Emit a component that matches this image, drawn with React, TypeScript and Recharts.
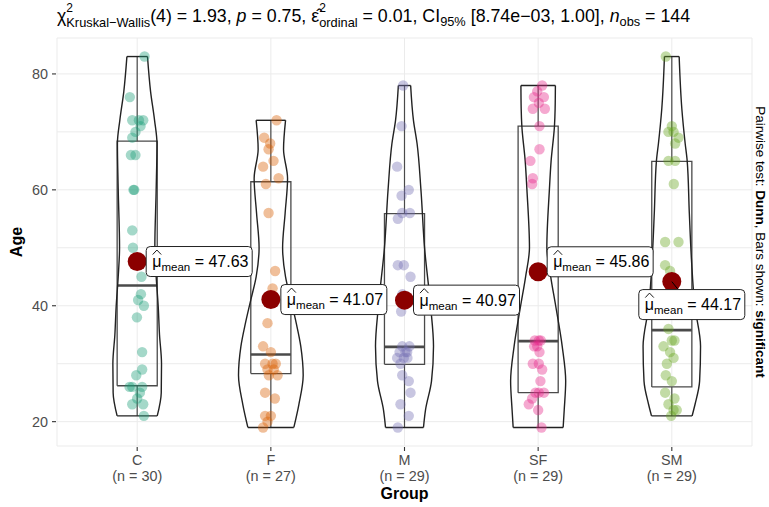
import React from 'react'
import { ComposedChart, Line, Scatter, XAxis, YAxis, CartesianGrid } from 'recharts'

const GROUPS = ['C', 'F', 'M', 'SF', 'SM']
const GROUP_N = [30, 27, 29, 29, 29]
const MEANS = [47.63, 41.07, 40.97, 45.86, 44.17]
const Y_TICKS = [20, 30, 40, 50, 60, 70, 80]
const Y_LABELED = [20, 40, 60, 80]
const X_TICKS = [1, 2, 3, 4, 5]

const AGE_C = [83, 76, 72, 72, 72, 71, 70, 69, 66, 66, 60, 60, 53, 50, 45, 42, 41, 40, 38, 32, 29, 28, 26, 26, 25, 23, 23, 21, 26, 24]
const JIT_C = [0.055, -0.055, -0.037, 0.013, 0.045, 0.025, -0.013, -0.037, -0.047, -0.013, -0.022, -0.028, -0.037, -0.032, 0.032, 0.028, 0.007, 0.05, -0.002, 0.037, 0.037, -0.007, -0.037, 0.037, 0.02, -0.037, 0.045, 0.05, -0.057, 0]
const AGE_F = [72, 69, 68, 67, 65, 64, 62, 61, 56, 46, 43, 37, 33, 32, 30, 30, 30, 29, 28, 25, 21, 21, 20, 19, 29, 28, 24]
const JIT_F = [0.043, -0.05, -0.005, -0.017, 0.02, -0.058, 0.058, -0.037, -0.017, 0.032, 0.013, -0.025, -0.058, 0, -0.043, 0.013, 0.037, -0.025, 0.05, -0.043, -0.043, 0, -0.025, -0.058, 0.022, -0.015, 0.03]
const AGE_M = [78, 71, 64, 60, 59, 56, 56, 55, 47, 47, 45, 39, 33, 32, 31, 31, 30, 28, 27, 25, 23, 21, 19, 41, 42, 33, 32, 31, 32]
const JIT_M = [-0.01, -0.022, -0.055, 0.032, -0.022, 0.04, -0.017, -0.05, -0.05, -0.005, 0.045, -0.025, -0.017, 0.02, -0.055, -0.005, -0.03, -0.017, 0.032, 0.045, -0.03, 0.032, -0.05, 0, -0.015, 0.037, -0.037, 0.022, 0.007]
const AGE_SF = [78, 77, 76, 76, 75, 74, 74, 71, 67, 65, 62, 61, 34, 34, 30, 30, 29, 27, 25, 25, 24, 23, 22, 19, 33, 25, 34, 33, 32]
const JIT_SF = [0.03, -0.007, -0.032, 0.043, 0.005, -0.04, 0.05, 0.01, 0.01, -0.058, -0.04, -0.045, 0.005, -0.025, -0.04, 0.005, 0.03, 0.017, 0.043, 0.005, -0.045, -0.07, 0, 0.025, -0.007, -0.02, 0.02, -0.03, 0.01]
const AGE_SM = [83, 71, 70, 70, 69, 68, 65, 65, 61, 51, 51, 47, 46, 36, 34, 34, 33, 32, 31, 30, 28, 27, 25, 24, 23, 22, 22, 21, 42]
const JIT_SM = [-0.045, 0, 0.013, -0.025, 0.05, 0.025, 0.025, -0.025, 0.015, -0.05, 0.05, -0.05, -0.013, -0.025, 0, 0.02, -0.062, -0.013, 0.013, -0.037, -0.045, 0, -0.05, 0.02, -0.025, 0.037, 0.013, -0.005, 0.015]

// boxplot stats: min, q1, median, q3, max
const BOX_C = [21, 26.2, 43.5, 68.4, 83]
const BOX_F = [19, 28.3, 31.6, 61.4, 72]
const BOX_M = [19, 29.9, 32.9, 55.9, 78]
const BOX_SF = [19, 25, 33.9, 71, 78]
const BOX_SM = [21, 26, 35.8, 64.9, 83]

// violin outline: [age, half width in category units]
const VIOLIN_C = [[21, 0.15], [25, 0.18], [30, 0.182], [35, 0.167], [40, 0.157], [45, 0.142], [50, 0.132], [60, 0.142], [68, 0.148], [72, 0.13], [77, 0.1], [83, 0.077]]
const VIOLIN_F = [[19, 0.172], [23, 0.21], [28, 0.242], [33, 0.224], [37, 0.19], [41, 0.15], [45, 0.11], [50, 0.088], [56, 0.107], [62, 0.125], [67, 0.095], [72, 0.11]]
const VIOLIN_M = [[19, 0.142], [22, 0.157], [27, 0.202], [33, 0.217], [40, 0.195], [50, 0.15], [60, 0.123], [68, 0.094], [72, 0.067], [78, 0.046]]
const VIOLIN_SF = [[19, 0.187], [22, 0.195], [27, 0.206], [33, 0.18], [40, 0.131], [45, 0.094], [50, 0.065], [60, 0.084], [65, 0.097], [71, 0.122], [74, 0.127], [78, 0.129]]
const VIOLIN_SM = [[21, 0.152], [23, 0.174], [27, 0.208], [33, 0.215], [40, 0.172], [48, 0.147], [56, 0.131], [65, 0.115], [68, 0.1], [74, 0.075], [83, 0.055]]

const AGES = [AGE_C, AGE_F, AGE_M, AGE_SF, AGE_SM]
const JITTERS = [JIT_C, JIT_F, JIT_M, JIT_SF, JIT_SM]
const BOXES = [BOX_C, BOX_F, BOX_M, BOX_SF, BOX_SM]
const VIOLINS = [VIOLIN_C, VIOLIN_F, VIOLIN_M, VIOLIN_SF, VIOLIN_SM]

const COLORS = ['#1B9E77', '#D95F02', '#7570B3', '#E7298A', '#66A61E']
const FONT = '"Liberation Sans", Arial, Helvetica, sans-serif'
const BOX_HALF = 0.15
// label box offset from mean dot (px): left edge dx, vertical centre dy
const LABEL_POS = [
  { dx: 9, dy: 0 },
  { dx: 10, dy: 0 },
  { dx: 9, dy: 0 },
  { dx: 9, dy: -10 },
  { dx: -33, dy: 23 },
]

const pt = (x: number, y: number) => ({ x, y })

const path = (key: string, data: { x: number; y: number }[], stroke: string, width: number, type: any = 'linear') => (
  <Line
    key={key}
    data={data}
    dataKey="y"
    type={type}
    stroke={stroke}
    strokeWidth={width}
    dot={false}
    activeDot={false}
    legendType="none"
    isAnimationActive={false}
  />
)

function XTick({ x, y, payload }: any) {
  const i = payload.value - 1
  return (
    <g fontFamily={FONT}>
      <line x1={x} x2={x} y1={y + 1} y2={y + 5} stroke="#333" strokeWidth={1.1} />
      <text x={x} y={y + 19} textAnchor="middle" fontSize={14.4} fill="#4D4D4D">{GROUPS[i]}</text>
      <text x={x} y={y + 35} textAnchor="middle" fontSize={14.4} fill="#4D4D4D">(n = {GROUP_N[i]})</text>
    </g>
  )
}

function YTick({ x, y, payload }: any) {
  if (!Y_LABELED.includes(payload.value)) return <g />
  return (
    <g fontFamily={FONT}>
      <line x1={x - 5} x2={x - 1} y1={y} y2={y} stroke="#333" strokeWidth={1.1} />
      <text x={x - 9} y={y + 5} textAnchor="end" fontSize={14.4} fill="#4D4D4D">{payload.value}</text>
    </g>
  )
}

function PointShape({ cx, cy, payload }: any) {
  return <circle cx={cx} cy={cy} r={5.2} fill={COLORS[payload.g]} fillOpacity={0.4} />
}

function MeanShape({ cx, cy, payload }: any) {
  const i = payload.g
  const p = LABEL_POS[i]
  const bx = cx + p.dx
  const by = cy + p.dy - 15
  const tx = bx + 6
  const ty = by + 20.5
  return (
    <g fontFamily={FONT}>
      <circle cx={cx} cy={cy} r={9.5} fill="#8B0000" />
      {i === 4 && <line x1={cx} y1={cy} x2={cx + 6} y2={cy + 7.5} stroke="#000" strokeWidth={1} />}
      <rect x={bx} y={by} width={106} height={30} rx={4} fill="#fff" stroke="#222" strokeWidth={1} />
      <polyline points={`${tx + 0.5},${ty - 12.5} ${tx + 4.7},${ty - 17} ${tx + 9},${ty - 12.5}`} fill="none" stroke="#000" strokeWidth={0.9} />
      <text x={tx} y={ty} fontSize={16} fill="#000">
        <tspan>μ</tspan>
        <tspan fontSize={11.5} dy={4}>mean</tspan>
        <tspan dy={-4}> = {MEANS[i].toFixed(2)}</tspan>
      </text>
    </g>
  )
}

export default function App() {
  const lines: any[] = []
  VIOLINS.forEach((v, g) => {
    const c = g + 1
    const left = v.map(([a, w]) => pt(c - w, a))
    const right = v.map(([a, w]) => pt(c + w, a))
    const lo = v[0]
    const hi = v[v.length - 1]
    lines.push(path(`vl${g}`, left, '#222', 1.4, 'monotoneY'))
    lines.push(path(`vr${g}`, right, '#222', 1.4, 'monotoneY'))
    lines.push(path(`vb${g}`, [pt(c - lo[1], lo[0]), pt(c + lo[1], lo[0])], '#222', 1.4))
    lines.push(path(`vt${g}`, [pt(c - hi[1], hi[0]), pt(c + hi[1], hi[0])], '#222', 1.4))
  })
  const boxes: any[] = []
  BOXES.forEach(([mn, q1, md, q3, mx], g) => {
    const c = g + 1
    boxes.push(path(`wl${g}`, [pt(c, mn), pt(c, q1)], '#4a4a4a', 1.2))
    boxes.push(path(`wh${g}`, [pt(c, q3), pt(c, mx)], '#4a4a4a', 1.2))
    boxes.push(path(`bx${g}`, [pt(c - BOX_HALF, q1), pt(c + BOX_HALF, q1), pt(c + BOX_HALF, q3), pt(c - BOX_HALF, q3), pt(c - BOX_HALF, q1)], '#4a4a4a', 1.3))
    boxes.push(path(`md${g}`, [pt(c - BOX_HALF, md), pt(c + BOX_HALF, md)], '#4a4a4a', 2.6))
  })
  const points = AGES.flatMap((ages, g) => ages.map((a, k) => ({ x: g + 1 + JITTERS[g][k], y: a, g })))
  const means = MEANS.map((m, g) => ({ x: g + 1, y: m, g }))

  return (
    <div style={{ position: 'fixed', left: 0, top: 0, width: 769, height: 507, background: '#fff' }}>
      <ComposedChart width={769} height={507} margin={{ top: 38, right: 17, bottom: 16, left: 12 }}>
        <CartesianGrid stroke="#EBEBEB" strokeWidth={1} />
        <XAxis
          type="number"
          dataKey="x"
          domain={[0.4, 5.6]}
          ticks={X_TICKS}
          interval={0}
          allowDataOverflow
          height={45}
          axisLine={false}
          tickLine={false}
          tickSize={0}
          tickMargin={0}
          tick={<XTick />}
        />
        <YAxis
          type="number"
          dataKey="y"
          domain={[15.8, 86.2]}
          ticks={Y_TICKS}
          interval={0}
          allowDataOverflow
          width={45}
          axisLine={false}
          tickLine={false}
          tickSize={0}
          tickMargin={0}
          tick={<YTick />}
        />
        <Scatter data={points} shape={<PointShape />} isAnimationActive={false} legendType="none" />
        {boxes}
        {lines}
        <Scatter data={means} shape={<MeanShape />} isAnimationActive={false} legendType="none" />
      </ComposedChart>
      <svg width={769} height={507} style={{ position: 'absolute', left: 0, top: 0, pointerEvents: 'none' }} fontFamily={FONT}>
        <text x={57} y={22} fontSize={17.8} fill="#000">
          <tspan>χ</tspan>
          <tspan fontSize={12} dy={-10}>2</tspan>
          <tspan fontSize={12.8} dx={-6.7} dy={15}>Kruskal−Wallis</tspan>
          <tspan dy={-5}>(4) = 1.93, </tspan>
          <tspan fontStyle="italic">p</tspan>
          <tspan> = 0.75, ε̂</tspan>
          <tspan fontSize={12} dy={-10}>2</tspan>
          <tspan fontSize={12.8} dx={-6.7} dy={15}>ordinal</tspan>
          <tspan dy={-5}> = 0.01, CI</tspan>
          <tspan fontSize={12.8} dy={4}>95%</tspan>
          <tspan dy={-4}> [8.74e−03, 1.00], </tspan>
          <tspan fontStyle="italic">n</tspan>
          <tspan fontSize={12.8} dy={4}>obs</tspan>
          <tspan dy={-4}> = 144</tspan>
        </text>
        <text x={22} y={242} fontSize={16} fontWeight="bold" textAnchor="middle" transform="rotate(-90 22 242)">Age</text>
        <text x={404.5} y={499} fontSize={16} fontWeight="bold" textAnchor="middle">Group</text>
        <text x={756} y={242} fontSize={13.5} textAnchor="middle" transform="rotate(90 756 242)">
          Pairwise test: <tspan fontWeight="bold">Dunn</tspan>, Bars shown: <tspan fontWeight="bold">significant</tspan>
        </text>
      </svg>
    </div>
  )
}
